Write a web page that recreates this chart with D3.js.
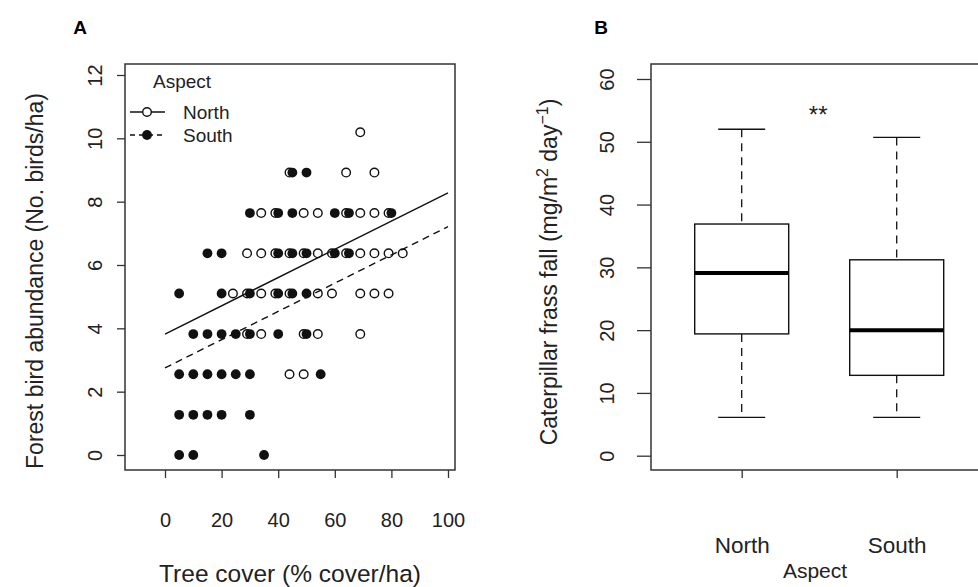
<!DOCTYPE html>
<html><head><meta charset="utf-8">
<script src="https://cdn.jsdelivr.net/npm/d3@7"></script>
<style>
body{margin:0;background:#fff;}
svg{display:block;font-family:"Liberation Sans",Arial,sans-serif;}
</style></head>
<body>
<svg id="chart" width="978" height="587"></svg>
<script>
// ---------- Panel A data ----------
const aspects = ["North", "South"];
const northX = [69, 44,64,74, 34,39,49,54,64,69,74,79, 29,34,39,44,49,54,59,64,69,74,79,84,
                24,29,34,39,44,54,59,69,74,79, 29,34,49,54,69, 44,49];
const northY = [10.19, 8.92,8.92,8.92, 7.64,7.64,7.64,7.64,7.64,7.64,7.64,7.64,
                6.37,6.37,6.37,6.37,6.37,6.37,6.37,6.37,6.37,6.37,6.37,6.37,
                5.10,5.10,5.10,5.10,5.10,5.10,5.10,5.10,5.10,5.10,
                3.82,3.82,3.82,3.82,3.82, 2.55,2.55];
const southX = [45,50, 30,40,45,60,65,80, 15,20,40,45,50,60,65, 5,20,30,40,45,50,
                10,15,20,25,30,40,50, 5,10,15,20,25,30,55, 5,10,15,20,30, 5,10,35];
const southY = [8.92,8.92, 7.64,7.64,7.64,7.64,7.64,7.64,
                6.37,6.37,6.37,6.37,6.37,6.37,6.37,
                5.10,5.10,5.10,5.10,5.10,5.10,
                3.82,3.82,3.82,3.82,3.82,3.82,3.82,
                2.55,2.55,2.55,2.55,2.55,2.55,2.55,
                1.27,1.27,1.27,1.27,1.27, 0,0,0];
const northLineX = [0, 100], northLineY = [3.82, 8.28];
const southLineX = [0, 100], southLineY = [2.75, 7.21];
const xTicksA = [0, 20, 40, 60, 80, 100];
const yTicksA = [0, 2, 4, 6, 8, 10, 12];

// ---------- Panel B data ----------
const boxGroups = ["North", "South"];
const boxLow    = [6.1, 6.1];
const boxQ1     = [19.4, 12.8];
const boxMedian = [29.1, 20.0];
const boxQ3     = [36.9, 31.2];
const boxHigh   = [52.0, 50.7];
const yTicksB = [0, 10, 20, 30, 40, 50, 60];

const svg = d3.select("#chart");
const FONT = 20;
const frameCol = "#333";

// ======== PANEL A ========
const A = {left:125, right:455, top:64, bottom:470};
const xA = d3.scaleLinear().domain([0,100]).range([165,448]);
const yA = d3.scaleLinear().domain([0,12]).range([455,75]);
const gA = svg.append("g");

gA.append("rect").attr("x",A.left).attr("y",A.top)
  .attr("width",A.right-A.left).attr("height",A.bottom-A.top)
  .attr("fill","none").attr("stroke",frameCol).attr("stroke-width",1.5);

const axYA = gA.append("g").attr("transform",`translate(${A.left},0)`)
  .call(d3.axisLeft(yA).tickValues(yTicksA).tickSize(8).tickFormat(d3.format("d")));
axYA.select(".domain").remove();
axYA.selectAll("line").attr("stroke",frameCol).attr("stroke-width",1.3);
axYA.selectAll("text").attr("transform","rotate(-90)").attr("x",0).attr("y",-23)
  .attr("dy",0).style("text-anchor","middle").style("font-size",FONT+"px").attr("fill","#222");

const axXA = gA.append("g").attr("transform",`translate(0,${A.bottom})`)
  .call(d3.axisBottom(xA).tickValues(xTicksA).tickSize(8).tickFormat(d3.format("d")));
axXA.select(".domain").remove();
axXA.selectAll("line").attr("stroke",frameCol).attr("stroke-width",1.3);
axXA.selectAll("text").attr("y",57).attr("dy",0)
  .style("font-size",FONT+"px").attr("fill","#222");

// regression lines
const lineGen = d3.line().x(d=>xA(d[0])).y(d=>yA(d[1]));
gA.append("path").datum(northLineX.map((x,i)=>[x,northLineY[i]]))
  .attr("d",lineGen).attr("fill","none").attr("stroke","#111").attr("stroke-width",1.4);
gA.append("path").datum(southLineX.map((x,i)=>[x,southLineY[i]]))
  .attr("d",lineGen).attr("fill","none").attr("stroke","#111").attr("stroke-width",1.4)
  .attr("stroke-dasharray","7,5");

// points
const R = 4.3;
gA.append("g").selectAll("circle").data(northX.map((x,i)=>[x,northY[i]])).join("circle")
  .attr("cx",d=>xA(d[0])).attr("cy",d=>yA(d[1])).attr("r",R)
  .attr("fill","none").attr("stroke","#111").attr("stroke-width",1.4);
gA.append("g").selectAll("circle").data(southX.map((x,i)=>[x,southY[i]])).join("circle")
  .attr("cx",d=>xA(d[0])).attr("cy",d=>yA(d[1])).attr("r",R+0.6)
  .attr("fill","#111").attr("stroke","none");

// legend
const leg = gA.append("g");
leg.append("text").attr("x",153).attr("y",88).text("Aspect")
  .style("font-size","19px").attr("fill","#222");
aspects.forEach((name,i)=>{
  const yy = 112 + i*23;
  leg.append("line").attr("x1",130).attr("x2",165).attr("y1",yy).attr("y2",yy)
    .attr("stroke","#111").attr("stroke-width",1.3)
    .attr("stroke-dasharray", i===0 ? null : "5,4");
  if(i===0){
    leg.append("circle").attr("cx",147).attr("cy",yy).attr("r",R)
      .attr("fill","#fff").attr("stroke","#111").attr("stroke-width",1.4);
  } else {
    leg.append("circle").attr("cx",147).attr("cy",yy).attr("r",R+0.6).attr("fill","#111");
  }
  leg.append("text").attr("x",183).attr("y",yy+7).text(name)
    .style("font-size","19px").attr("fill","#222");
});

// labels A
gA.append("text").attr("transform",`translate(43,281) rotate(-90)`)
  .style("text-anchor","middle").style("font-size","23px").attr("fill","#222")
  .text("Forest bird abundance (No. birds/ha)");
gA.append("text").attr("x",(A.left+A.right)/2).attr("y",582)
  .style("text-anchor","middle").style("font-size","24.5px").attr("fill","#222")
  .text("Tree cover (% cover/ha)");
gA.append("text").attr("x",80).attr("y",34).style("text-anchor","middle")
  .style("font-size","19px").style("font-weight","bold").text("A");

// ======== PANEL B ========
const B = {left:651, right:987, top:64, bottom:470};
const xB = d3.scaleLinear().domain([1,2]).range([741.7,896.7]);
const yB = d3.scaleLinear().domain([0,60]).range([455.7,79]);
const gB = svg.append("g");

gB.append("rect").attr("x",B.left).attr("y",B.top)
  .attr("width",B.right-B.left).attr("height",B.bottom-B.top)
  .attr("fill","none").attr("stroke",frameCol).attr("stroke-width",1.5);

const axYB = gB.append("g").attr("transform",`translate(${B.left},0)`)
  .call(d3.axisLeft(yB).tickValues(yTicksB).tickSize(14).tickFormat(d3.format("d")));
axYB.select(".domain").remove();
axYB.selectAll("line").attr("stroke",frameCol).attr("stroke-width",1.3);
axYB.selectAll("text").attr("transform","rotate(-90)").attr("x",0).attr("y",-37)
  .attr("dy",0).style("text-anchor","middle").style("font-size",FONT+"px").attr("fill","#222");

const axXB = gB.append("g").attr("transform",`translate(0,${B.bottom})`)
  .call(d3.axisBottom(xB).tickValues([1,2]).tickSize(8).tickFormat((d,i)=>boxGroups[i]));
axXB.select(".domain").remove();
axXB.selectAll("line").attr("stroke",frameCol).attr("stroke-width",1.3);
axXB.selectAll("text").attr("y",83).attr("dy",0)
  .style("font-size","22.5px").attr("fill","#222");

const boxHalf = 47, capHalf = 23.5;
boxGroups.forEach((g,i)=>{
  const cx = xB(i+1);
  gB.append("line").attr("x1",cx).attr("x2",cx).attr("y1",yB(boxHigh[i])).attr("y2",yB(boxQ3[i]))
    .attr("stroke","#111").attr("stroke-width",1.3).attr("stroke-dasharray","8,6");
  gB.append("line").attr("x1",cx).attr("x2",cx).attr("y1",yB(boxQ1[i])).attr("y2",yB(boxLow[i]))
    .attr("stroke","#111").attr("stroke-width",1.3).attr("stroke-dasharray","8,6");
  [boxHigh[i], boxLow[i]].forEach(v=>{
    gB.append("line").attr("x1",cx-capHalf).attr("x2",cx+capHalf).attr("y1",yB(v)).attr("y2",yB(v))
      .attr("stroke","#111").attr("stroke-width",1.4);
  });
  gB.append("rect").attr("x",cx-boxHalf).attr("y",yB(boxQ3[i]))
    .attr("width",boxHalf*2).attr("height",yB(boxQ1[i])-yB(boxQ3[i]))
    .attr("fill","#fff").attr("stroke","#111").attr("stroke-width",1.4);
  gB.append("line").attr("x1",cx-boxHalf).attr("x2",cx+boxHalf)
    .attr("y1",yB(boxMedian[i])).attr("y2",yB(boxMedian[i]))
    .attr("stroke","#000").attr("stroke-width",4);
});

gB.append("text").attr("x",(xB(1)+xB(2))/2-1).attr("y",123).style("text-anchor","middle")
  .style("font-size","24px").attr("fill","#222").text("**");

const yl = gB.append("text").attr("transform",`translate(557,272) rotate(-90)`)
  .style("text-anchor","middle").style("font-size","23px").attr("fill","#222");
yl.append("tspan").text("Caterpillar frass fall (mg/m");
yl.append("tspan").attr("dy",-9).style("font-size","16px").text("2");
yl.append("tspan").attr("dy",9).text(" day");
yl.append("tspan").attr("dy",-9).style("font-size","16px").text("−1");
yl.append("tspan").attr("dy",9).text(")");

gB.append("text").attr("x",815).attr("y",578).style("text-anchor","middle")
  .style("font-size","21px").attr("fill","#222").text("Aspect");
gB.append("text").attr("x",601).attr("y",34).style("text-anchor","middle")
  .style("font-size","19px").style("font-weight","bold").text("B");
</script>
</body></html>
